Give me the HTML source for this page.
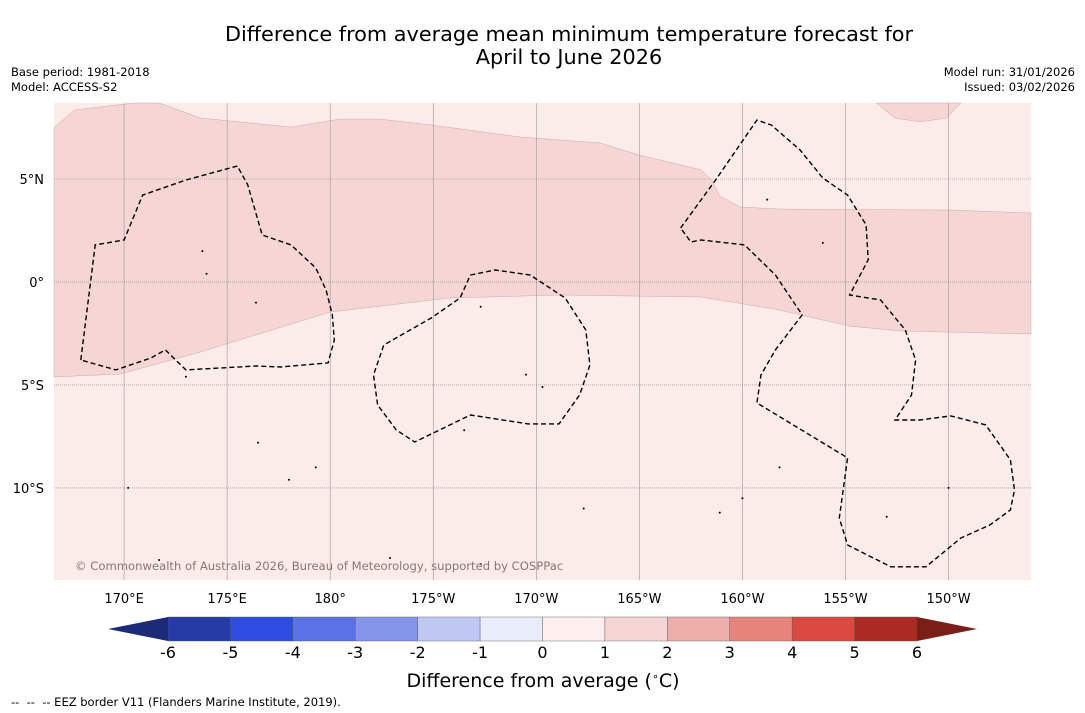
<!DOCTYPE html>
<html><head><meta charset="utf-8">
<style>
body{margin:0;background:#fff;width:1085px;height:713px;overflow:hidden;font-family:"DejaVu Sans","Liberation Sans",sans-serif;}
svg{position:absolute;left:0;top:0;font-family:"DejaVu Sans","Liberation Sans",sans-serif;}
</style></head>
<body>
<svg width="1085" height="713" xmlns="http://www.w3.org/2000/svg">
<text x="569" y="41" font-size="20.8" text-anchor="middle">Difference from average mean minimum temperature forecast for</text>
<text x="569" y="64" font-size="20.8" text-anchor="middle">April to June 2026</text>
<text x="11" y="76" font-size="11.5">Base period: 1981-2018</text>
<text x="11" y="91" font-size="11.5">Model: ACCESS-S2</text>
<text x="1075" y="76" font-size="11.5" text-anchor="end">Model run: 31/01/2026</text>
<text x="1075" y="91" font-size="11.5" text-anchor="end">Issued: 03/02/2026</text>
<g id="map"></g>
<g id="axes"></g>
<g id="cbar"></g>
<text x="543" y="687" font-size="19" text-anchor="middle">Difference from average (<tspan font-size="11" dy="-7">∘</tspan><tspan dy="7">C)</tspan></text>
<text x="11" y="706" font-size="11.5" xml:space="preserve">--  --  -- EEZ border V11 (Flanders Marine Institute, 2019).</text>
</svg>
<script>
const NS="http://www.w3.org/2000/svg";
const lonMin=166.6, lonMax=214.0, latMax=8.69, latMin=-14.47;
const X0=54,X1=1031,Y0=103,Y1=580;
const lonTicks=[170,175,180,185,190,195,200,205,210];
const lonLabels=["170°E","175°E","180°","175°W","170°W","165°W","160°W","155°W","150°W"];
const latTicks=[5,0,-5,-10];
const latLabels=["5°N","0°","5°S","10°S"];
const bandUpper=[[166.6,7.48],[167.6,8.35],[170.5,8.69],[171.7,8.69],[173.7,7.96],[178.1,7.52],[180.5,7.91],[182.4,7.91],[184.9,7.62],[189.2,7.04],[193.1,6.75],[195.0,6.16],[198.0,5.44],[198.5,4.95],[198.9,4.17],[199.9,3.64],[201.8,3.54],[210.1,3.49],[214.0,3.35]];
const bandLower=[[214.0,-2.52],[207.7,-2.38],[205.2,-2.14],[201.8,-1.36],[198.0,-0.73],[191.2,-0.63],[185.8,-0.78],[180.0,-1.46],[173.7,-3.40],[169.8,-4.47],[166.6,-4.61]];
const blob=[[206.5,8.69],[207.4,7.96],[208.6,7.77],[209.9,7.96],[210.6,8.69]];
const eezGilbert=[[167.9,-3.79],[168.6,1.80],[170.0,2.04],[170.9,4.22],[173.0,4.95],[175.5,5.63],[176.0,4.71],[176.7,2.28],[178.1,1.80],[179.3,0.68],[179.8,-0.39],[180.1,-1.60],[180.2,-2.82],[179.9,-3.93],[177.6,-4.13],[176.4,-4.08],[173.0,-4.27],[172.0,-3.30],[171.3,-3.69],[169.6,-4.27],[167.9,-3.79]];
const eezPhoenix=[[186.8,0.34],[188.0,0.58],[189.7,0.34],[191.4,-0.78],[192.4,-2.33],[192.6,-4.03],[192.1,-5.49],[191.1,-6.89],[189.6,-6.89],[186.8,-6.46],[184.1,-7.77],[183.2,-7.18],[182.3,-5.97],[182.1,-4.51],[182.6,-3.06],[184.9,-1.75],[186.3,-0.78],[186.8,0.34]];
const eezLine=[[197.0,2.62],[198.7,4.95],[200.7,7.86],[201.4,7.62],[202.8,6.41],[203.9,5.05],[205.1,4.22],[206.0,2.77],[206.1,1.07],[205.2,-0.63],[206.7,-0.87],[207.9,-2.33],[208.4,-3.79],[208.2,-5.49],[207.4,-6.70],[208.6,-6.70],[210.1,-6.50],[211.8,-6.94],[213.0,-8.64],[213.2,-10.10],[213.0,-11.07],[212.0,-11.80],[210.6,-12.43],[208.9,-13.83],[207.2,-13.83],[205.1,-12.77],[204.7,-11.46],[205.1,-8.54],[200.7,-5.87],[200.9,-4.51],[201.6,-3.30],[202.9,-1.60],[201.6,0.34],[200.1,1.80],[198.0,2.04],[197.5,1.94],[197.0,2.62]];
const islands=[[170.2,-10.0],[173.0,-4.6],[176.5,-7.8],[178.0,-9.6],[187.3,-1.2],[189.5,-4.5],[190.3,-5.1],[186.5,-7.2],[192.3,-11.0],[201.8,-9.0],[200.0,-10.5],[207.0,-11.4],[210.0,-10.0],[201.2,4.0],[203.9,1.9],[173.8,1.5],[174.0,0.4],[176.4,-1.0],[198.9,-11.2],[187.3,-13.7],[171.7,-13.5],[182.9,-13.4],[179.3,-9.0]];
const cbValues=[-6,-5,-4,-3,-2,-1,0,1,2,3,4,5,6];
const cbColors=["#263ba6","#2e4cdf","#5a72e3","#8494e9","#bfc8f3","#e9edfb","#fcefed","#f5d5d4","#ecaea8","#e6847c","#da4a40","#ab2a24"];
const cbLow="#1c2a78", cbHigh="#7a1e18";

const px=lon=>X0+(lon-lonMin)/(lonMax-lonMin)*(X1-X0);
const py=lat=>Y0+(latMax-lat)/(latMax-latMin)*(Y1-Y0);
const pts=a=>a.map(p=>px(p[0]).toFixed(1)+","+py(p[1]).toFixed(1)).join(" ");
function mk(tag,attrs,parent){const e=document.createElementNS(NS,tag);for(const k in attrs)e.setAttribute(k,attrs[k]);parent.appendChild(e);return e;}
const map=document.getElementById('map'),axes=document.getElementById('axes'),cbar=document.getElementById('cbar');
let r=mk('rect',{x:X0,y:Y0,width:X1-X0,height:Y1-Y0,fill:"#fbebe9"},map);


let b=mk('polygon',{points:pts(bandUpper.concat(bandLower)),fill:"#f5d6d5",stroke:"#c9a9a8","stroke-width":0.5},map);


let bl=mk('polygon',{points:pts(blob),fill:"#f5d6d5",stroke:"#c9a9a8","stroke-width":0.5},map);


lonTicks.forEach((l,i)=>{
 let g=mk('line',{x1:px(l),x2:px(l),y1:Y0,y2:Y1,stroke:"#999","stroke-width":0.6},map);
 
 
 let t=mk('text',{x:px(l),y:603,"font-size":13,"text-anchor":"middle"},axes);t.textContent=lonLabels[i];
 
 
});
latTicks.forEach((l,i)=>{
 let g=mk('line',{x1:X0,x2:X1,y1:py(l),y2:py(l),stroke:"#888","stroke-width":0.6,"stroke-dasharray":"1,1"},map);
 
 
 let t=mk('text',{x:44,y:py(l)+5,"font-size":13,"text-anchor":"end"},axes);t.textContent=latLabels[i];
 
 
});
[["eez-gilbert",eezGilbert],["eez-phoenix",eezPhoenix],["eez-line-cook",eezLine]].forEach(([n,a])=>{
 let e=mk('polyline',{points:pts(a),fill:"none",stroke:"#000","stroke-width":1.4,"stroke-dasharray":"5,3"},map);
 
 
});
islands.forEach(p=>{
 let c=mk('circle',{cx:px(p[0]),cy:py(p[1]),r:1,fill:"#000"},map);
 
 
});
let cp=mk('text',{x:75,y:570,"font-size":11.6,fill:"#8a7474"},map);cp.textContent="© Commonwealth of Australia 2026, Bureau of Meteorology, supported by COSPPac";


const cbX0=168,cbX1=917,cbY=617,cbH=24;
const cx=v=>cbX0+(v-cbValues[0])/(cbValues[cbValues.length-1]-cbValues[0])*(cbX1-cbX0);
cbColors.forEach((c,i)=>{
 let s=mk('rect',{x:cx(cbValues[i]),y:cbY,width:cx(cbValues[i+1])-cx(cbValues[i]),height:cbH,fill:c,stroke:"#555","stroke-width":0.4},cbar);
 
 
});
let tl=mk('polygon',{points:`${cbX0},${cbY} ${cbX0},${cbY+cbH} 108,${cbY+cbH/2}`,fill:cbLow},cbar);


let tr=mk('polygon',{points:`${cbX1},${cbY} ${cbX1},${cbY+cbH} 977,${cbY+cbH/2}`,fill:cbHigh},cbar);


cbValues.forEach(v=>{
 let t=mk('text',{x:cx(v),y:658,"font-size":16,"text-anchor":"middle"},cbar);t.textContent=String(v);
 
 
});
</script>
</body></html>
